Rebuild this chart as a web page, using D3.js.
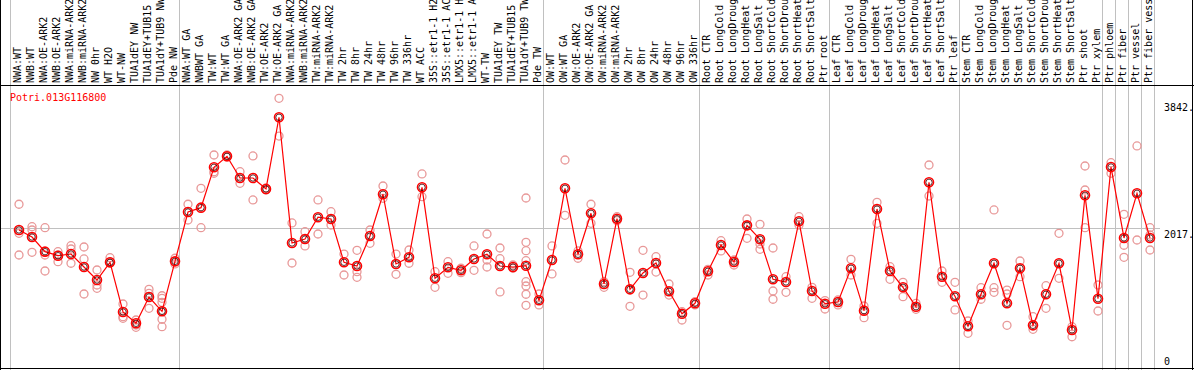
<!DOCTYPE html>
<html>
<head>
<meta charset="utf-8">
<script src="https://cdn.jsdelivr.net/npm/d3@7"></script>
<style>
  body { margin: 0; background: #fff; }
  svg { display: block; font-family: 'DejaVu Sans Mono', monospace; font-size: 10px; }
</style>
</head>
<body>
<svg id="chart" width="1194" height="370"></svg>
<script>
/* global d3: false */
/* eslint-env browser */

const geneName = 'Potri.013G116800';

const labels = [
  'NWA:WT', 'NWB:WT', 'NWA:OE-ARK2', 'NWB:OE-ARK2', 'NWA:miRNA-ARK2', 'NWB:miRNA-ARK2',
  'NW 0hr', 'WT H2O', 'WT-NW', 'TUA1dEY NW', 'TUA1dEY+TUB15', 'TUA1dY+TUB9 NW', 'Pde NW',
  'NWA:WT GA', 'NWBWT GA', 'TW:WT', 'TW:WT GA', 'NWA:OE-ARK2 GA', 'NWB:OE-ARK2 GA',
  'TW:OE-ARK2', 'TW:OE-ARK2 GA', 'NWA:miRNA-ARK2', 'NWB:miRNA-ARK2', 'TW:miRNA-ARK2',
  'TW:miRNA-ARK2', 'TW 2hr', 'TW 8hr', 'TW 24hr', 'TW 48hr', 'TW 96hr', 'TW 336hr',
  'WT ACC', '35S::etr1-1 H2', '35S::etr1-1 AC', 'LMX5::etr1-1 H', 'LMX5::etr1-1 A',
  'WT-TW', 'TUA1dEY TW', 'TUA1dEY+TUB15', 'TUA1dY+TUB9 TW', 'Pde TW',
  'OW:WT', 'OW:WT GA', 'OW:OE-ARK2', 'OW:OE-ARK2 GA', 'OW:miRNA-ARK2', 'OW:miRNA-ARK2',
  'OW 2hr', 'OW 8hr', 'OW 24hr', 'OW 48hr', 'OW 96hr', 'OW 336hr',
  'Root CTR', 'Root LongCold', 'Root LongDroug', 'Root LongHeat', 'Root LongSalt',
  'Root ShortCold', 'Root ShortDrou', 'Root ShortHeat', 'Root ShortSalt', 'Ptr root',
  'Leaf CTR', 'Leaf LongCold', 'Leaf LongDroug', 'Leaf LongHeat', 'Leaf LongSalt',
  'Leaf ShortCold', 'Leaf ShortDrou', 'Leaf ShortHeat', 'Leaf ShortSalt', 'Ptr leaf',
  'Stem CTR', 'Stem LongCold', 'Stem LongDroug', 'Stem LongHeat', 'Stem LongSalt',
  'Stem ShortCold', 'Stem ShortDrou', 'Stem ShortHeat', 'Stem ShortSalt', 'Ptr shoot',
  'Ptr xylem', 'Ptr phloem', 'Ptr fiber', 'Ptr vessel', 'Ptr fiber vess'];

// number of samples in each experiment block (separated by grey lines)
const groupSizes = [13, 28, 12, 10, 10, 11, 1, 1, 1, 1];

const means = [
  1986, 1885, 1674, 1616, 1640, 1453, 1266, 1521, 806, 643, 1022, 816, 1535,
  2245, 2307, 2888, 3046, 2734, 2734, 2576, 3608, 1799, 1856, 2169, 2144, 1521,
  1468, 1899, 2500, 1497, 1593, 2600, 1291, 1449, 1406, 1569, 1636, 1468, 1453,
  1472, 974,
  1554, 2586, 1636, 2226, 1209, 2148, 1132, 1367, 1511, 1104, 781, 931,
  1392, 1770, 1525, 2053, 1852, 1276, 1238, 2111, 1108, 925,
  950, 1435, 825, 2288, 1396, 1161, 882, 2672, 1314, 1032,
  600, 1061, 1507, 931, 1435, 614, 1061, 1507, 547, 2485, 997,
  2892, 1871, 2514, 1871];

const replicates = [
  [2356, 1938, 1626], [2033, 1986, 1665], [2019, 1626, 1396], [1674, 1530, 1626],
  [1760, 1712, 1507], [1741, 1569, 1065], [1410, 1194, 1147], [1587, 1507, 1525],
  [921, 738, 715], [691, 619, 586], [1132, 1075, 859],
  [1040, 1003, 945, 820, 701, 594], [1579, 1497],
  [2356, 2130], [2586, 2019], [3065, 2825, 2802], [3065, 3051, 3036], [2825, 2658],
  [3051, 2418], [2590, 2561], [3881, 3338], [2087, 1511], [1961, 1756], [2418, 1928],
  [2249, 2058], [1640, 1338], [1694, 1386, 1305], [1986, 1794], [2619, 2442],
  [1640, 1348], [1698, 1507], [2792, 2465], [1386, 1161], [1530, 1363], [1435, 1371],
  [1756, 1406], [1928, 1554, 1453], [1727, 1573, 1094], [1482, 1435],
  [2446, 1809, 1688, 1544, 1242, 1180, 1061, 902], [1065, 907],
  [1756, 1353], [2993, 2197], [1684, 1579], [2356, 2082], [1242, 1161], [2177, 2120],
  [1377, 888], [1694, 1050], [1602, 1381], [1209, 1050], [810, 691], [954, 907],
  [1420, 1338], [1832, 1684], [1554, 1482], [2144, 1866], [2068, 1784, 1708],
  [1727, 1108, 989], [1314, 1089], [2177, 2058], [1161, 1003], [969, 849],
  [979, 907], [1564, 1338], [892, 724], [2384, 2082], [1458, 1276], [1233, 1026],
  [931, 845], [2921, 2475], [1396, 1233], [1233, 835],
  [676, 499], [1156, 989], [2274, 1156, 1089], [1122, 1065, 614], [1540, 1314],
  [738, 557], [1184, 859], [1938, 1291], [594, 450], [2907, 2561, 2019], [1194, 820],
  [2954, 2802], [2212, 1766, 1593], [3195, 1842], [2019, 1914, 1698]];

const axisTicks = [0, 2017, 3842];

const svg = d3.select('#chart');
const width = 1194;
const cell = 13;
const plotLeft = 11;
const plotTop = 85;
const plotBottom = 368;

const x = d3.scaleBand()
  .domain(d3.range(labels.length))
  .range([plotLeft, plotLeft + (labels.length * cell)]);

const y = d3.scaleLinear()
  .domain([0, 3842])
  .range([plotBottom, 101]);

const px = i => x(i) + 8;

function drawFrame() {
  // grey separators between experiment blocks
  const bounds = [0];
  groupSizes.forEach((n) => { bounds.push(bounds[bounds.length - 1] + n); });
  svg.append('g')
    .selectAll('line')
    .data(bounds)
    .enter()
    .append('line')
    .attr('x1', d => (d < labels.length ? x(d) : x(d - 1) + cell) - 0.5)
    .attr('x2', d => (d < labels.length ? x(d) : x(d - 1) + cell) - 0.5)
    .attr('y1', 0)
    .attr('y2', 370)
    .attr('stroke', '#c0c0c0')
    .attr('shape-rendering', 'crispEdges');

  svg.append('line')
    .attr('x1', 1)
    .attr('x2', x(labels.length - 1) + cell + 5)
    .attr('y1', Math.round(y(2017)) + 0.5)
    .attr('y2', Math.round(y(2017)) + 0.5)
    .attr('stroke', '#c0c0c0')
    .attr('shape-rendering', 'crispEdges');

  const frame = svg.append('g')
    .attr('stroke', '#000')
    .attr('shape-rendering', 'crispEdges');
  frame.append('line').attr('x1', 0).attr('x2', width).attr('y1', plotTop + 0.5).attr('y2', plotTop + 0.5);
  frame.append('line').attr('x1', 0).attr('x2', width).attr('y1', plotBottom + 0.5).attr('y2', plotBottom + 0.5);
  frame.append('line').attr('x1', 0.5).attr('x2', 0.5).attr('y1', 0).attr('y2', 370);
  frame.append('line').attr('x1', width - 1.5).attr('x2', width - 1.5).attr('y1', 0).attr('y2', 370);
}

function drawLabels() {
  svg.append('g')
    .selectAll('text')
    .data(labels)
    .enter()
    .append('text')
    .attr('transform', (d, i) => `translate(${x(i) + 10},${plotTop - 2}) rotate(-90)`)
    .attr('fill', '#000')
    .text(d => d);

  svg.append('text')
    .attr('x', 10)
    .attr('y', 101)
    .attr('fill', '#f00')
    .text(geneName);

  svg.append('g')
    .selectAll('text')
    .data(axisTicks)
    .enter()
    .append('text')
    .attr('x', 1164)
    .attr('y', d => Math.min(y(d) + 10, plotBottom - 3))
    .attr('fill', '#000')
    .text(d => (d === 0 ? '0' : `${d}.`));
}

function drawSeries() {
  const reps = [];
  replicates.forEach((vals, i) => {
    vals.forEach((v) => { reps.push({ i, v }); });
  });

  svg.append('g')
    .selectAll('circle')
    .data(reps)
    .enter()
    .append('circle')
    .attr('cx', d => px(d.i))
    .attr('cy', d => y(d.v))
    .attr('r', 4)
    .attr('fill', 'none')
    .attr('stroke', '#e89898')
    .attr('stroke-width', 1.3);

  const line = d3.line()
    .x((d, i) => px(i))
    .y(d => y(d));

  svg.append('path')
    .attr('d', line(means))
    .attr('fill', 'none')
    .attr('stroke', '#f00')
    .attr('stroke-width', 1.2);

  const dots = svg.append('g')
    .selectAll('g')
    .data(means)
    .enter()
    .append('g');
  dots.append('circle')
    .attr('cx', (d, i) => px(i))
    .attr('cy', d => y(d))
    .attr('r', 4.5)
    .attr('fill', 'none')
    .attr('stroke', '#f00')
    .attr('stroke-width', 1.6);
  dots.append('circle')
    .attr('cx', (d, i) => px(i))
    .attr('cy', d => y(d))
    .attr('r', 3.2)
    .attr('fill', 'none')
    .attr('stroke', '#300')
    .attr('stroke-width', 0.8);
}

drawFrame();
drawLabels();
drawSeries();
</script>
</body>
</html>
